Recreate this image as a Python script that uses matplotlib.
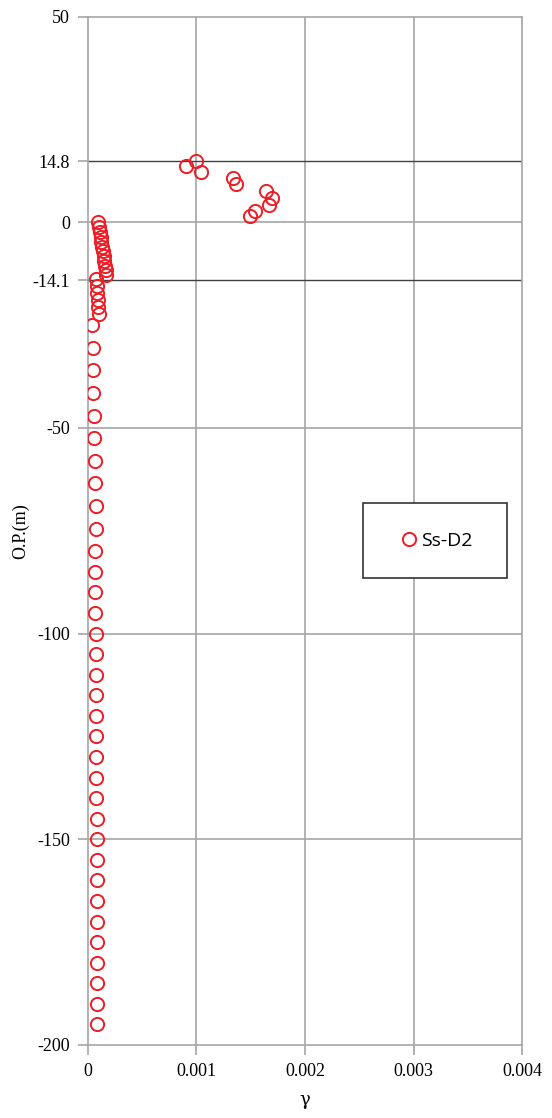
import matplotlib.pyplot as plt
from matplotlib.patches import Rectangle

# depth (O.P. m) and shear strain gamma
depth = [14.8, 13.6, 12.1, 10.8, 9.2, 7.6, 5.9, 4.3, 2.8, 1.5,
         0.0, -1.2, -2.3, -3.5, -4.7, -5.9, -7.0, -8.2, -9.4, -10.6, -11.7, -12.9,
         -13.8, -15.5, -17.2, -18.9, -20.6, -22.3,
         -24.9, -30.5, -36.0, -41.5, -47.0, -52.5, -58.0, -63.5, -69.0, -74.5,
         -80, -85, -90, -95, -100, -105, -110, -115, -120, -125, -130, -135,
         -140, -145, -150, -155, -160, -165, -170, -175, -180, -185, -190, -195]
gamma = [0.00100, 0.00090, 0.00104, 0.00134, 0.00136, 0.00164, 0.00170, 0.00167, 0.00154, 0.00149,
         0.000095, 0.000102, 0.000109, 0.000116, 0.000123, 0.000130, 0.000136, 0.000143, 0.000150, 0.000157, 0.000163, 0.000170,
         0.000075, 0.000080, 0.000085, 0.000090, 0.000095, 0.000100,
         0.000040, 0.000043, 0.000045, 0.000049, 0.000052, 0.000058, 0.000061, 0.000067, 0.000070, 0.000073,
         0.000066, 0.000067, 0.000068, 0.000069, 0.000070, 0.000071, 0.000072, 0.000073, 0.000074, 0.000075, 0.000076, 0.000077,
         0.000078, 0.000079, 0.000080, 0.000080, 0.000081, 0.000082, 0.000083, 0.000084, 0.000084, 0.000085, 0.000086, 0.000086]

yticks = [50, 14.8, 0, -14.1, -50, -100, -150, -200]
ytick_labels = ['50', '14.8', '0', '-14.1', '-50', '-100', '-150', '-200']
xticks = [0, 0.001, 0.002, 0.003, 0.004]
xtick_labels = ['0', '0.001', '0.002', '0.003', '0.004']
layer_lines = [14.8, -14.1]

fig = plt.figure(figsize=(5.52, 11.18), dpi=100)
ax = fig.add_axes([0.1594, 0.0653, 0.7863, 0.9199])

grey = '#a6a6a6'
for x in xticks[1:-1]:
    ax.axvline(x, color=grey, lw=1.2, zorder=1)
for y in [0, -50, -100, -150]:
    ax.axhline(y, color=grey, lw=1.2, zorder=1)
for y in layer_lines:
    ax.axhline(y, color='#404040', lw=1.0, zorder=1)

ax.plot(gamma, depth, 'o', ls='none', mfc='none', mec='#ee1c25', ms=9.5, mew=1.4,
        label='Ss-D2', zorder=3)

ax.set_xlim(0, 0.004)
ax.set_ylim(-200, 50)
ax.set_xticks(xticks)
ax.set_xticklabels(xtick_labels)
ax.set_yticks(yticks)
ax.set_yticklabels(ytick_labels)

for s in ax.spines.values():
    s.set_color(grey)
    s.set_linewidth(1.2)
ax.tick_params(direction='out', length=7, width=1.2, color=grey, labelsize=13,
               pad=6)
for lab in ax.get_xticklabels() + ax.get_yticklabels():
    lab.set_family('Liberation Serif')

ax.set_ylabel('O.P.(m)', family='Liberation Serif', fontsize=13, labelpad=2)
ax.set_xlabel('γ', family='DejaVu Serif', fontsize=13, labelpad=8)

# legend box
ax.add_patch(Rectangle((0.634, 0.454), 0.331, 0.073, transform=ax.transAxes,
                       fc='white', ec='#333333', lw=1.2, zorder=4))
leg = ax.legend(loc='center', bbox_to_anchor=(0.7995, 0.4905), frameon=False,
                prop={'family': 'Open Sans', 'size': 14}, handletextpad=0.05,
                handlelength=1.2, markerscale=1.0)
leg.set_zorder(5)

fig.savefig('out.png', dpi=100)
